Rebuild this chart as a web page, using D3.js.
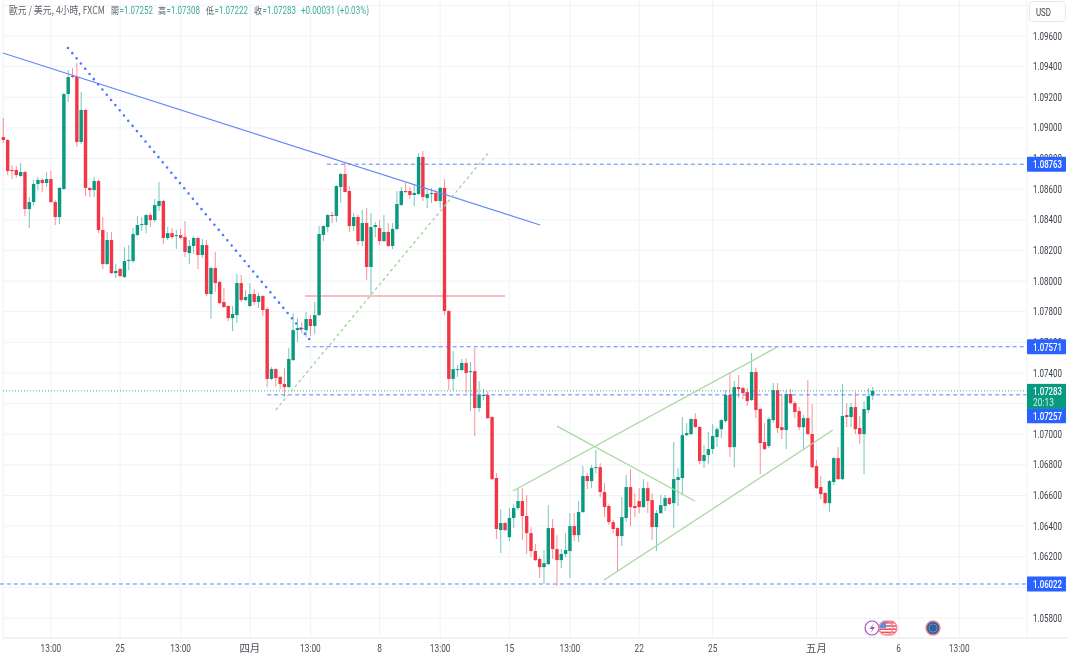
<!DOCTYPE html>
<html><head><meta charset="utf-8">
<script src="https://cdn.jsdelivr.net/npm/d3@7"></script>
<style>html,body{margin:0;padding:0;background:#fff}svg{display:block;filter:blur(0.3px)}
text{font-family:"Roboto",sans-serif}</style></head><body>
<svg id="c" width="1068" height="658"></svg>
<script>
const open=[1.08940,1.08921,1.08725,1.08725,1.08686,1.08712,1.08470,1.08516,1.08634,1.08660,
1.08640,1.08666,1.08516,1.08418,1.08601,1.09221,1.09339,1.09332,1.08908,1.09117,
1.08608,1.08594,1.08653,1.08333,1.08111,1.08268,1.08052,1.08079,1.08026,1.08131,
1.08131,1.08301,1.08366,1.08366,1.08431,1.08398,1.08490,1.08523,1.08281,1.08313,
1.08294,1.08300,1.08287,1.08183,1.08229,1.08281,1.08170,1.08235,1.07915,1.08085,
1.07994,1.07863,1.07837,1.07758,1.07778,1.07987,1.07876,1.07837,1.07915,1.07863,
1.07902,1.07817,1.07361,1.07425,1.07374,1.07328,1.07308,1.07484,1.07680,1.07693,
1.07680,1.07752,1.07706,1.07778,1.08301,1.08353,1.08431,1.08425,1.08614,1.08699,
1.08588,1.08359,1.08418,1.08261,1.08379,1.08092,1.08353,1.08346,1.08261,1.08320,
1.08229,1.08340,1.08497,1.08588,1.08588,1.08562,1.08568,1.08810,1.08542,1.08568,
1.08575,1.08523,1.08608,1.07804,1.07361,1.07419,1.07419,1.07465,1.07406,1.07412,
1.07171,1.07249,1.07256,1.07112,1.06714,1.06374,1.06420,1.06328,1.06453,1.06518,
1.06564,1.06466,1.06354,1.06237,1.06185,1.06132,1.06152,1.06387,1.06250,1.06178,
1.06218,1.06237,1.06400,1.06341,1.06492,1.06727,1.06694,1.06779,1.06785,1.06622,
1.06531,1.06426,1.06387,1.06335,1.06453,1.06655,1.06531,1.06564,1.06524,1.06648,
1.06570,1.06394,1.06485,1.06531,1.06583,1.06550,1.06701,1.06714,1.06994,1.07001,
1.07099,1.07047,1.06825,1.06864,1.06903,1.06981,1.07033,1.07086,1.07256,1.06916,
1.07308,1.07302,1.07275,1.07223,1.07406,1.07164,1.06949,1.06923,1.07092,1.07288,
1.07046,1.07027,1.07262,1.07203,1.07151,1.07046,1.07105,1.07001,1.06792,1.06655,
1.06616,1.06550,1.06688,1.06844,1.06707,1.07125,1.07112,1.07177,1.07040,1.07001,
1.07158,1.07252];
const high=[1.09065,1.08927,1.08757,1.08751,1.08770,1.08718,1.08549,1.08660,1.08679,1.08673,
1.08712,1.08718,1.08529,1.08614,1.09227,1.09378,1.09391,1.09424,1.09234,1.09123,
1.08614,1.08679,1.08660,1.08418,1.08320,1.08320,1.08111,1.08085,1.08222,1.08235,
1.08346,1.08425,1.08418,1.08437,1.08444,1.08536,1.08647,1.08529,1.08353,1.08346,
1.08333,1.08340,1.08392,1.08268,1.08294,1.08287,1.08274,1.08268,1.08092,1.08190,
1.08000,1.07955,1.07843,1.07837,1.08046,1.08039,1.07941,1.07987,1.07948,1.07922,
1.07909,1.07830,1.07438,1.07432,1.07380,1.07432,1.07563,1.07791,1.07758,1.07732,
1.07798,1.07778,1.07863,1.08359,1.08366,1.08438,1.08451,1.08627,1.08705,1.08771,
1.08620,1.08444,1.08431,1.08464,1.08477,1.08444,1.08385,1.08398,1.08431,1.08379,
1.08379,1.08588,1.08614,1.08640,1.08614,1.08627,1.08836,1.08849,1.08594,1.08608,
1.08594,1.08614,1.08666,1.07811,1.07543,1.07451,1.07491,1.07497,1.07471,1.07563,
1.07347,1.07295,1.07282,1.07118,1.06746,1.06511,1.06426,1.06518,1.06544,1.06648,
1.06648,1.06603,1.06393,1.06283,1.06198,1.06244,1.06537,1.06446,1.06341,1.06250,
1.06354,1.06485,1.06485,1.06564,1.06792,1.06746,1.06798,1.06897,1.06811,1.06681,
1.06544,1.06439,1.06393,1.06590,1.06734,1.06772,1.06616,1.06648,1.06707,1.06688,
1.06616,1.06505,1.06603,1.06603,1.06590,1.06949,1.06779,1.07112,1.07073,1.07105,
1.07138,1.07053,1.06929,1.07014,1.07066,1.07046,1.07099,1.07288,1.07406,1.07347,
1.07386,1.07308,1.07302,1.07530,1.07432,1.07171,1.07072,1.07112,1.07334,1.07334,
1.07255,1.07288,1.07295,1.07216,1.07177,1.07125,1.07354,1.07197,1.06831,1.06727,
1.06622,1.06701,1.06851,1.06916,1.07328,1.07203,1.07203,1.07275,1.07118,1.07216,
1.07302,1.07308];
const low=[1.08901,1.08692,1.08666,1.08673,1.08679,1.08425,1.08346,1.08490,1.08594,1.08581,
1.08614,1.08510,1.08366,1.08372,1.08595,1.09169,1.09326,1.08875,1.08895,1.08555,
1.08549,1.08549,1.08313,1.08079,1.08105,1.08046,1.08020,1.08026,1.08020,1.08072,
1.08118,1.08294,1.08327,1.08313,1.08353,1.08385,1.08457,1.08242,1.08268,1.08274,
1.08209,1.08274,1.08157,1.08111,1.08177,1.08079,1.08150,1.07902,1.07752,1.07928,
1.07850,1.07824,1.07739,1.07673,1.07726,1.07863,1.07869,1.07830,1.07843,1.07824,
1.07771,1.07308,1.07354,1.07308,1.07295,1.07243,1.07302,1.07478,1.07602,1.07660,
1.07634,1.07641,1.07654,1.07771,1.08261,1.08320,1.08379,1.08385,1.08510,1.08581,
1.08320,1.08327,1.08235,1.08229,1.08007,1.07909,1.08287,1.08235,1.08255,1.08222,
1.08209,1.08333,1.08490,1.08575,1.08536,1.08490,1.08562,1.08523,1.08477,1.08510,
1.08516,1.08477,1.07778,1.07288,1.07288,1.07374,1.07412,1.07269,1.07151,1.06988,
1.07145,1.07223,1.07099,1.06701,1.06315,1.06224,1.06368,1.06302,1.06387,1.06505,
1.06309,1.06218,1.06198,1.06172,1.06061,1.06022,1.06145,1.06185,1.06009,1.06126,
1.06198,1.06061,1.06302,1.06296,1.06485,1.06642,1.06648,1.06746,1.06589,1.06459,
1.06407,1.06354,1.06100,1.06270,1.06426,1.06400,1.06459,1.06485,1.06518,1.06485,
1.06309,1.06237,1.06479,1.06498,1.06537,1.06387,1.06531,1.06603,1.06988,1.06994,
1.07040,1.06805,1.06779,1.06805,1.06871,1.06916,1.06975,1.07073,1.06851,1.06785,
1.07236,1.07229,1.07184,1.07216,1.07105,1.06740,1.06897,1.06910,1.07072,1.07007,
1.06968,1.06903,1.07197,1.07105,1.07027,1.06903,1.06994,1.06779,1.06642,1.06576,
1.06544,1.06492,1.06668,1.06701,1.06701,1.07046,1.07046,1.07001,1.06936,1.06740,
1.07138,1.07222];
const close=[1.08921,1.08718,1.08718,1.08692,1.08712,1.08470,1.08516,1.08634,1.08660,1.08640,
1.08666,1.08516,1.08418,1.08608,1.09221,1.09332,1.09332,1.08908,1.09117,1.08608,
1.08594,1.08653,1.08333,1.08111,1.08268,1.08052,1.08066,1.08033,1.08131,1.08137,
1.08307,1.08366,1.08372,1.08431,1.08398,1.08496,1.08523,1.08281,1.08313,1.08287,
1.08300,1.08281,1.08190,1.08229,1.08281,1.08170,1.08235,1.07915,1.08085,1.07987,
1.07856,1.07830,1.07758,1.07785,1.07987,1.07876,1.07896,1.07915,1.07863,1.07902,
1.07811,1.07361,1.07425,1.07367,1.07328,1.07308,1.07491,1.07680,1.07693,1.07687,
1.07752,1.07706,1.07778,1.08307,1.08359,1.08431,1.08425,1.08620,1.08699,1.08581,
1.08359,1.08418,1.08261,1.08379,1.08092,1.08353,1.08366,1.08261,1.08320,1.08229,
1.08340,1.08503,1.08588,1.08581,1.08562,1.08575,1.08810,1.08549,1.08568,1.08575,
1.08523,1.08608,1.07804,1.07361,1.07425,1.07425,1.07465,1.07400,1.07412,1.07171,
1.07256,1.07256,1.07105,1.06707,1.06381,1.06420,1.06374,1.06453,1.06518,1.06564,
1.06466,1.06354,1.06237,1.06178,1.06132,1.06158,1.06387,1.06250,1.06178,1.06218,
1.06244,1.06400,1.06341,1.06492,1.06727,1.06694,1.06779,1.06785,1.06622,1.06524,
1.06426,1.06381,1.06335,1.06459,1.06655,1.06524,1.06518,1.06524,1.06648,1.06564,
1.06394,1.06485,1.06537,1.06583,1.06544,1.06707,1.06720,1.06994,1.07007,1.07099,
1.07047,1.06825,1.06864,1.06903,1.06988,1.07033,1.07092,1.07256,1.06916,1.07308,
1.07295,1.07268,1.07216,1.07406,1.07158,1.06942,1.06903,1.07099,1.07288,1.07040,
1.07027,1.07262,1.07203,1.07145,1.07046,1.07105,1.07001,1.06785,1.06648,1.06609,
1.06550,1.06694,1.06844,1.06707,1.07119,1.07112,1.07177,1.07033,1.07001,1.07164,
1.07249,1.07283];

const priceTicks=[1.098,1.096,1.094,1.092,1.09,1.088,1.086,1.084,1.082,1.08,1.078,1.076,1.074,1.072,1.07,1.068,1.066,1.064,1.062,1.06,1.058];
// labels the reference shows (1.098 is off the top; 1.072 and 1.060 sit fully under price tags)
const priceLabels=[1.096,1.094,1.092,1.09,1.088,1.086,1.084,1.082,1.08,1.078,1.076,1.074,1.07,1.068,1.066,1.064,1.062,1.058];
const timeTickBars=[11,27,41,57,71,87,101,117,131,147,164,188,207,221];
const timeTickLabels=["13:00","25","13:00","四月","13:00","8","13:00","15","13:00","22","25","五月","6","13:00"];
const priceFlags=[1.08763,1.07571,1.07257,1.06022];
const flagStartBars=[74.8,69.9,61,-0.8];
// drawings: [bar index, price] endpoints
const blueTrend=[[-0.1,1.09489],[124.1,1.08366]];
const blueDotted=[[14.95,1.09522],[71.1,1.07608]];
const greenDashed=[[63,1.07158],[112.3,1.08842]];
const redLevel=[[69.75,1.07902],[116,1.07902]];
const channelLines=[[[117.8,1.06629],[178.9,1.07569]],[[138.9,1.06048],[191.8,1.07027]],[[128,1.07053],[159.9,1.06564]]];
const lastPrice=1.07283, countdown="20:13";

const W=1068,H=658,plotR=1027,plotB=638;
const x=d3.scaleLinear().domain([0,201]).range([3.33,872.7]);
const y=d3.scaleLinear().domain([1.096,1.058]).range([36,618]);
const svg=d3.select("#c");
const line=d3.line().x(d=>x(d[0])).y(d=>y(d[1]));
const fmt=d3.format(".5f");
const UP="#089981",DOWN="#f23645",BLUE="#2962ff",CH="#a9d8a2";
// narrow a text to width w about its anchor: the reference axis font is narrower than the installed ones
function fit(sel,w){return sel.each(function(){
  const s=d3.select(this),px=+s.attr("x"),py=+s.attr("y"),t=this.getComputedTextLength();
  const width=typeof w==="function"?w(t):w;
  s.attr("x",0).attr("y",0).attr("transform",`translate(${px},${py}) scale(${width/t},1)`);
});}

// grid
svg.append("g").selectAll("line").data(priceTicks).join("line")
 .attr("x1",3).attr("x2",plotR).attr("y1",d=>y(d)).attr("y2",d=>y(d)).attr("stroke","#f1f2f5");
svg.append("g").selectAll("line").data(timeTickBars).join("line")
 .attr("x1",d=>x(d)).attr("x2",d=>x(d)).attr("y1",0).attr("y2",plotB).attr("stroke","#f1f2f5");
svg.append("line").attr("x1",3).attr("x2",3).attr("y1",0).attr("y2",plotB).attr("stroke","#eef0f3");

// red level under candles
svg.append("path").attr("d",line(redLevel)).attr("stroke","#f7a9b0").attr("stroke-width",1.6).attr("fill","none");

// candles
const bars=d3.range(open.length).map(i=>({i,o:open[i],h:high[i],l:low[i],c:close[i]}));
const col=d=>d.c>=d.o?UP:DOWN;
svg.append("g").selectAll("line").data(bars).join("line")
 .attr("x1",d=>x(d.i)).attr("x2",d=>x(d.i)).attr("y1",d=>y(d.h)).attr("y2",d=>y(d.l))
 .attr("stroke",col).attr("stroke-opacity",.55);
svg.append("g").selectAll("rect").data(bars).join("rect")
 .attr("x",d=>x(d.i)-1.7).attr("width",3.4)
 .attr("y",d=>y(Math.max(d.o,d.c))).attr("height",d=>Math.max(1,Math.abs(y(d.o)-y(d.c))))
 .attr("fill",col);

// price flag lines
svg.append("g").selectAll("line").data(priceFlags).join("line")
 .attr("x1",(d,i)=>x(flagStartBars[i])).attr("x2",plotR).attr("y1",d=>y(d)).attr("y2",d=>y(d))
 .attr("stroke","#3f6ffb").attr("stroke-dasharray","4 3").attr("stroke-opacity",.85);
// last price
svg.append("line").attr("x1",3).attr("x2",plotR).attr("y1",y(lastPrice)).attr("y2",y(lastPrice))
 .attr("stroke",UP).attr("stroke-dasharray","1 2").attr("stroke-opacity",.8);

// drawings
svg.append("path").attr("d",line(blueTrend)).attr("stroke","#6288f7").attr("stroke-width",1.2).attr("fill","none");
svg.append("path").attr("d",line(blueDotted)).attr("stroke",BLUE).attr("stroke-width",2.6).attr("fill","none")
 .attr("stroke-linecap","round").attr("stroke-dasharray","0 6.75").attr("stroke-opacity",.85);
svg.append("path").attr("d",line(greenDashed)).attr("stroke","#9fd296").attr("stroke-width",1.3).attr("fill","none").attr("stroke-dasharray","3 3");
svg.append("g").selectAll("path").data(channelLines).join("path").attr("d",d=>line(d))
 .attr("stroke",CH).attr("stroke-width",1.3).attr("fill","none");

// axis frame
svg.append("line").attr("x1",3).attr("x2",W).attr("y1",plotB).attr("y2",plotB).attr("stroke","#e4e6ee");
svg.append("line").attr("x1",plotR).attr("x2",plotR).attr("y1",0).attr("y2",plotB).attr("stroke","#f1f2f5");

// price axis labels
fit(svg.append("g").selectAll("text").data(priceLabels).join("text")
 .attr("x",1033).attr("y",d=>y(d)+3.6).attr("font-size",10.4).attr("fill","#3c4049").text(d=>fmt(d)),29);
// flags: the 1.07257 tag is pushed below the last-price tag, as the axis stacks them
const flagLabelOffset=p=>p===1.07257?21:0;
const fg=svg.append("g");
const flagH=15;
fg.selectAll("rect").data(priceFlags).join("rect")
 .attr("x",plotR).attr("width",39).attr("y",d=>y(d)+flagLabelOffset(d)-flagH/2).attr("height",flagH).attr("rx",1).attr("fill",BLUE);
fit(fg.selectAll("text").data(priceFlags).join("text")
 .attr("x",1033).attr("y",d=>y(d)+flagLabelOffset(d)+3.8).attr("font-size",10.4).attr("font-weight",500).attr("fill","#fff").text(d=>fmt(d)),29);
// last-price tag
svg.append("rect").attr("x",plotR).attr("width",39).attr("y",y(lastPrice)-7).attr("height",25).attr("fill",UP);
fit(svg.append("text").attr("x",1033).attr("y",y(lastPrice)+3.8).attr("font-size",10.4).attr("font-weight",500).attr("fill","#fff").text(fmt(lastPrice)),29);
fit(svg.append("text").attr("x",1033).attr("y",y(lastPrice)+15).attr("font-size",10).attr("fill","#d5efe8").text(countdown),21);

// USD
svg.append("rect").attr("x",1029.5).attr("y",1.5).attr("width",36).attr("height",20).attr("rx",3).attr("fill","#fff").attr("stroke","#e6e8ee");
fit(svg.append("text").attr("x",1036).attr("y",15.5).attr("font-size",10).attr("fill","#3c4049").text("USD"),15);

// time axis
const tt=svg.append("g").selectAll("text").data(timeTickBars).join("text")
 .attr("x",d=>x(d)).attr("y",652).attr("text-anchor","middle").attr("font-size",10.4).attr("fill","#4a4e57")
 .style("font-family",(d,i)=>/[月]/.test(timeTickLabels[i])?'"Noto Sans CJK TC"':null)
 .text((d,i)=>timeTickLabels[i]);
fit(tt.filter((d,i)=>!/[月]/.test(timeTickLabels[i])),t=>t*.8);

// header
const cjk='"Noto Sans CJK TC","Noto Sans",sans-serif';
fit(svg.append("text").attr("x",9).attr("y",14).attr("font-size",10).attr("fill","#5b5f68").style("font-family",cjk).text("歐元 / 美元, 4小時, FXCM"),96);
const ohlcHeads=[["開",1.07252,111],["高",1.07308,158],["低",1.07222,206],["收",1.07283,254]];
ohlcHeads.forEach(([k,v,px])=>{
 fit(svg.append("text").attr("x",px).attr("y",14).attr("font-size",9.6).attr("fill","#5b5f68").style("font-family",cjk).text(k),8);
 fit(svg.append("text").attr("x",px+8.5).attr("y",14).attr("font-size",10.4).attr("fill","#3aae97").text("="+fmt(v)),33.5);
});
fit(svg.append("text").attr("x",301).attr("y",14).attr("font-size",10.4).attr("fill","#3aae97").text("+0.00031 (+0.03%)"),68);

// event icons
const defs=svg.append("defs");
function clip(id,cx,cy,r){defs.append("clipPath").attr("id",id).append("circle").attr("cx",cx).attr("cy",cy).attr("r",r);}
const evY=628;
svg.append("circle").attr("cx",872).attr("cy",evY).attr("r",7).attr("fill","#fff").attr("stroke","#a64fc9").attr("stroke-width",1.2);
svg.append("path").attr("d",`M874 623L869.5 629H872.5L870.5 633L875 627H872Z`).attr("fill","#a64fc9");
function usFlag(id,cx){
 clip(id,cx,evY,6.5);
 const g=svg.append("g");
 g.append("circle").attr("cx",cx).attr("cy",evY).attr("r",7).attr("fill","#fff").attr("stroke","#f58a92").attr("stroke-width",1.4);
 const c=g.append("g").attr("clip-path",`url(#${id})`);
 d3.range(4).forEach(k=>c.append("rect").attr("x",cx-7).attr("y",evY-6+k*3.2).attr("width",14).attr("height",1.6).attr("fill","#ef4f5d"));
 c.append("rect").attr("x",cx-7).attr("y",evY-7).attr("width",7).attr("height",7).attr("fill","#5d8fe0");
}
usFlag("u2",890);usFlag("u1",886);
clip("eu",933,evY,6);
svg.append("circle").attr("cx",933).attr("cy",evY).attr("r",7).attr("fill","#2d5fae").attr("stroke","#f58a92").attr("stroke-width",1.4);
d3.range(12).forEach(k=>svg.append("circle").attr("cx",933+4*Math.cos(k*Math.PI/6)).attr("cy",evY+4*Math.sin(k*Math.PI/6)).attr("r",.55).attr("fill","#e8c93c"));
</script></body></html>
